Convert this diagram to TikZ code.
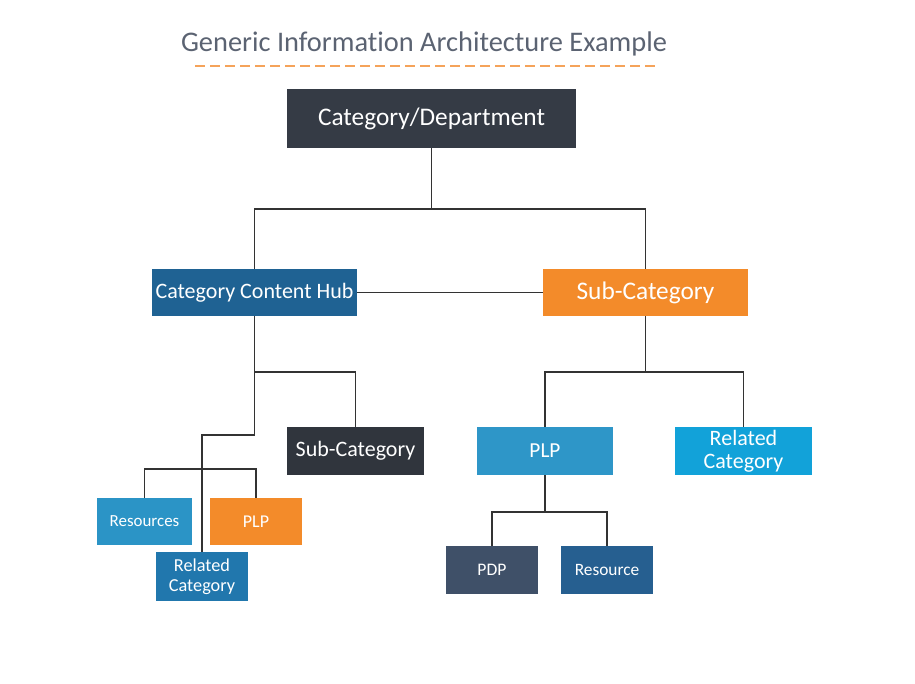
\documentclass[tikz,border=0pt]{standalone}
\usepackage{fontspec}
\setmainfont{Carlito}[Ligatures=NoCommon]
\definecolor{cdark}{HTML}{353B45}
\definecolor{chub}{HTML}{1F6293}
\definecolor{corange}{HTML}{F38B2A}
\definecolor{csubd}{HTML}{30353D}
\definecolor{cplp}{HTML}{2E96C8}
\definecolor{crc}{HTML}{12A2D9}
\definecolor{cres}{HTML}{2B94C6}
\definecolor{crctwo}{HTML}{2177AD}
\definecolor{cpdp}{HTML}{3F5068}
\definecolor{cresource}{HTML}{265F90}
\definecolor{ctitle}{HTML}{5B6372}
\definecolor{cdash}{HTML}{F5A35A}
\definecolor{cline}{HTML}{333333}
\tikzset{
  box/.style={rectangle, inner sep=0pt, text=white, align=center, font=#1},
  conn/.style={draw=cline, line width=1.1pt},
}
\begin{document}
\begin{tikzpicture}[x=0.75pt, y=-0.75pt]
\useasboundingbox[fill=white] (0,0) rectangle (915,684);
\node[text=ctitle, font=\fontsize{21.3}{23}\selectfont, inner sep=0pt] (title) at (424,44) {Generic Information Architecture Example};
\coordinate (dl) at (195,66);
\coordinate (dr) at (655,66);
\draw[cdash, line width=1.5pt, dash pattern=on 7.5pt off 3.75pt] (dl) -- (dr);

\node[box=\fontsize{19}{21}\selectfont, fill=cdark, minimum width=216.75pt, minimum height=44.25pt] (cd) at (431.5,118.5) {Category/Department};
\node[box=\fontsize{16.5}{18}\selectfont, fill=chub, minimum width=153.75pt, minimum height=35.25pt] (hub) at (254.5,292.5) {Category Content Hub};
\node[box=\fontsize{19}{21}\selectfont, fill=corange, minimum width=153.75pt, minimum height=35.25pt] (subo) at (645.5,292.5) {Sub-Category};
\node[box=\fontsize{16.5}{18}\selectfont, fill=csubd, minimum width=102.75pt, minimum height=36pt] (subd) at (355.5,451) {Sub-Category};
\node[box=\fontsize{16}{18}\selectfont, fill=cplp, minimum width=102pt, minimum height=36pt] (plpa) at (545,451) {PLP};
\node[box=\fontsize{16.5}{17.5}\selectfont, fill=crc, minimum width=102.75pt, minimum height=36pt] (rca) at (743.5,451) {Related\\Category};
\node[box=\fontsize{12.7}{14}\selectfont, fill=cres, minimum width=71.25pt, minimum height=35.25pt] (res) at (144.5,521.5) {Resources};
\node[box=\fontsize{13.5}{15}\selectfont, fill=corange, minimum width=69pt, minimum height=35.25pt] (plpb) at (256,521.5) {PLP};
\node[box=\fontsize{13.7}{15}\selectfont, fill=crctwo, minimum width=69pt, minimum height=36.75pt] (rcb) at (202,576.5) {Related\\Category};
\node[box=\fontsize{13.2}{15}\selectfont, fill=cpdp, minimum width=69pt, minimum height=36pt] (pdp) at (492,570) {PDP};
\node[box=\fontsize{13}{15}\selectfont, fill=cresource, minimum width=69pt, minimum height=36pt] (resource) at (607,570) {Resource};

\coordinate (ya) at (0,209);
\coordinate (yb) at (0,372);
\coordinate (yc) at (0,435);
\coordinate (yd) at (0,469);
\coordinate (ye) at (0,512);

\draw[conn] (cd.south) -- (cd.south |- ya);
\draw[conn] (hub.north) -- (hub.north |- ya) -- (subo.north |- ya) -- (subo.north);
\draw[conn] (hub.east) -- (subo.west);
\draw[conn] (hub.south) -- (hub.south |- yb) -- (subd.north |- yb) -- (subd.north);
\draw[conn] (hub.south) -- (hub.south |- yc) -- (rcb.north |- yc) -- (rcb.north);
\draw[conn] (res.north) -- (res.north |- yd) -- (plpb.north |- yd) -- (plpb.north);
\draw[conn] (subo.south) -- (subo.south |- yb);
\draw[conn] (plpa.north) -- (plpa.north |- yb) -- (rca.north |- yb) -- (rca.north);
\draw[conn] (plpa.south) -- (plpa.south |- ye);
\draw[conn] (pdp.north) -- (pdp.north |- ye) -- (resource.north |- ye) -- (resource.north);
\end{tikzpicture}
\end{document}
